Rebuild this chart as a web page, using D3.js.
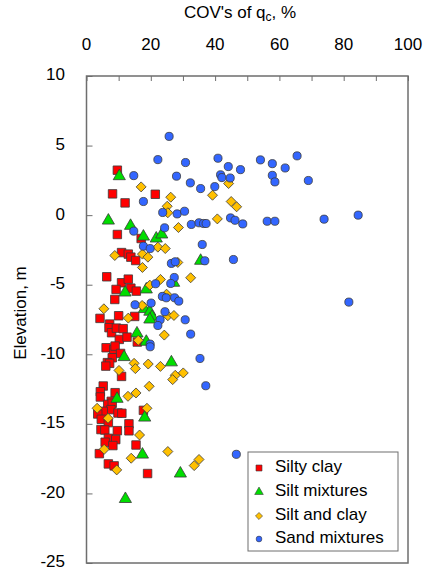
<!DOCTYPE html>
<html>
<head>
<meta charset="utf-8">
<script src="https://cdn.jsdelivr.net/npm/d3@7"></script>
<style>
  html, body { margin: 0; padding: 0; background: #fff; }
  svg { display: block; font-family: "Liberation Sans", Arial, sans-serif; }
</style>
</head>
<body>
<svg id="chart" width="425" height="579"></svg>
<script>
// ---- Data (COV of qc in %, elevation in m) ----
const seriesNames = ["Silty clay", "Silt mixtures", "Silt and clay", "Sand mixtures"];
const xTicks = [0, 20, 40, 60, 80, 100];
const yTicks = [10, 5, 0, -5, -10, -15, -20, -25];

const siltyClay = [
  [9.6,3.23],[8.1,1.53],[12.0,0.88],[21.4,1.5],[9.6,-1.39],[17.0,-1.68],[10.9,-2.69],[13.0,-2.8],
  [13.8,-3.02],[15.3,-3.26],[6.3,-4.43],[10.9,-4.86],[13.0,-4.6],[9.2,-5.34],[13.8,-5.25],[15.5,-5.46],
  [8.8,-6.06],[4.2,-7.42],[10.0,-7.23],[15.0,-7.28],[7.2,-7.83],[7.0,-8.09],[7.8,-8.45],[9.3,-8.12],
  [11.4,-8.16],[10.2,-8.93],[12.6,-8.77],[15.8,-9.12],[6.1,-9.53],[8.5,-9.67],[8.9,-9.41],[10.6,-9.94],
  [8.0,-10.25],[6.5,-10.6],[7.2,-10.65],[6.0,-10.85],[10.9,-11.59],[5.2,-12.28],[4.3,-12.69],[4.3,-13.07],
  [8.9,-12.76],[7.7,-13.38],[6.6,-13.6],[8.0,-13.52],[7.6,-13.98],[5.2,-14.1],[3.5,-14.29],[9.8,-14.22],
  [11.0,-14.24],[17.7,-14.03],[4.6,-14.67],[6.8,-14.91],[13.2,-15.0],[13.2,-15.5],[4.5,-15.41],[5.7,-15.44],
  [9.6,-15.49],[6.8,-16.04],[9.1,-16.13],[5.8,-16.32],[8.2,-16.56],[15.4,-16.52],[4.0,-17.14],[6.8,-17.88],
  [8.6,-18.02],[19.0,-18.57]
];
const siltMixtures = [
  [10.2,2.8],[6.8,-0.39],[13.7,-0.77],[17.7,-1.54],[21.7,-1.68],[23.4,-1.39],[35.5,-3.28],[12.0,-5.56],
  [18.6,-5.34],[27.1,-4.86],[18.0,-6.75],[19.7,-6.94],[20.4,-7.3],[19.7,-7.5],[15.7,-8.5],[18.6,-9.1],
  [11.7,-10.2],[26.4,-10.58],[9.5,-13.2],[18.1,-14.55],[17.4,-17.21],[29.2,-18.57],[12.1,-20.4]
];
const siltAndClay = [
  [17.0,2.03],[26.2,1.29],[39.2,1.43],[45.0,0.98],[46.7,0.6],[25.1,0.64],[25.3,0.17],[44.2,2.27],
  [40.7,-0.27],[28.6,-0.89],[22.2,-2.3],[24.5,-2.4],[8.8,-2.9],[17.4,-2.8],[19.1,-3.02],[17.4,-3.76],
  [28.4,-3.4],[19.7,-5.03],[23.0,-4.62],[32.4,-4.5],[5.4,-6.73],[17.3,-6.49],[24.9,-5.68],[25.3,-7.23],
  [27.2,-7.21],[24.2,-8.62],[13.0,-7.4],[16.1,-9.0],[14.8,-10.65],[19.2,-10.7],[23.0,-10.87],[15.2,-11.03],
  [10.1,-11.16],[27.6,-11.51],[26.8,-11.82],[30.1,-11.34],[19.5,-12.3],[15.4,-12.78],[12.9,-13.02],[3.3,-13.88],
  [18.8,-13.88],[6.7,-14.6],[16.5,-15.8],[5.5,-16.83],[25.3,-16.99],[13.9,-17.47],[35.0,-17.56],[33.5,-18.0],
  [9.4,-18.31]
];
const sandMixtures = [
  [25.7,5.66],[22.2,3.99],[30.8,3.78],[40.9,4.09],[44.1,3.49],[47.9,3.27],[14.7,2.84],[28.0,2.8],
  [41.7,2.9],[42.1,2.7],[44.7,2.67],[32.3,2.32],[35.5,1.91],[39.9,2.05],[17.7,0.98],[23.7,0.19],
  [28.2,0.09],[30.5,0.28],[44.8,-0.2],[46.2,-0.37],[48.6,-0.63],[32.6,-0.67],[35.0,-0.55],[36.4,-0.6],
  [37.2,-0.6],[14.7,-1.15],[24.3,-0.91],[17.7,-2.23],[19.8,-2.4],[36.0,-2.11],[26.4,-3.47],[27.6,-3.35],
  [36.8,-3.28],[45.7,-3.19],[21.5,-4.93],[27.3,-4.48],[26.2,-4.91],[15.1,-6.44],[20.1,-6.32],[23.6,-5.84],
  [24.8,-5.94],[27.4,-5.94],[28.7,-6.18],[24.4,-6.94],[22.9,-7.52],[22.2,-7.93],[30.7,-7.52],[32.4,-8.55],
  [19.8,-9.27],[19.8,-9.46],[35.3,-10.3],[37.1,-12.26],[46.6,-17.19],[54.1,3.97],[65.5,4.26],[57.8,3.7],
  [61.8,3.39],[57.8,2.86],[58.6,2.39],[69.0,2.49],[56.2,-0.44],[58.6,-0.44],[73.9,-0.29],[84.5,0.0],
  [81.6,-6.25]
];

// ---- Layout ----
const svg = d3.select("#chart");
const L = 86.5, R = 408, T = 76, B = 563;
const x = d3.scaleLinear().domain([0, 100]).range([L, R]);
const y = d3.scaleLinear().domain([-25, 10]).range([B, T]);
const fontSize = 17;
const frameColor = "#6e6e6e";

// top axis (ticks inside, every 10; labels every 20)
const xAxis = d3.axisTop(x).tickValues(d3.range(0, 101, 10)).tickSize(-5).tickFormat("");
svg.append("g").attr("transform", `translate(0,${T})`).call(xAxis)
  .call(g => g.select(".domain").remove())
  .call(g => g.selectAll("line").attr("stroke", frameColor).attr("stroke-width", 1));
svg.append("g").selectAll("text").data(xTicks).join("text")
  .attr("x", d => x(d)).attr("y", 46).attr("text-anchor", "middle")
  .attr("dominant-baseline", "middle").attr("font-size", fontSize).attr("fill", "#000")
  .text(d => d);

// left axis (ticks inside)
const yAxis = d3.axisLeft(y).tickValues(yTicks).tickSize(-6).tickFormat("");
svg.append("g").attr("transform", `translate(${L},0)`).call(yAxis)
  .call(g => g.select(".domain").remove())
  .call(g => g.selectAll("line").attr("stroke", frameColor).attr("stroke-width", 1));
svg.append("g").selectAll("text").data(yTicks).join("text")
  .attr("x", 65).attr("y", d => y(d)).attr("text-anchor", "end")
  .attr("dominant-baseline", "middle").attr("font-size", fontSize).attr("fill", "#000")
  .text(d => d);

// frame
svg.append("rect").attr("x", L).attr("y", T).attr("width", R - L).attr("height", B - T)
  .attr("fill", "none").attr("stroke", frameColor).attr("stroke-width", 1.5);

// titles
const title = svg.append("text").attr("x", 240).attr("y", 14).attr("text-anchor", "middle")
  .attr("dominant-baseline", "middle").attr("font-size", fontSize).attr("fill", "#000");
title.append("tspan").text("COV's of q");
title.append("tspan").attr("font-size", 12).attr("dy", 4).text("c");
title.append("tspan").attr("dy", -4).text(", %");

svg.append("text").attr("transform", "translate(22,313) rotate(-90)")
  .attr("text-anchor", "middle").attr("dominant-baseline", "middle")
  .attr("font-size", fontSize).attr("fill", "#000").text("Elevation, m");

// markers
const stroke = "#3a3a3a";
const diamondSym = { draw(ctx, size) { const r = Math.sqrt(size / 2); ctx.moveTo(0, -r); ctx.lineTo(r, 0); ctx.lineTo(0, r); ctx.lineTo(-r, 0); ctx.closePath(); } };
const symbols = [
  { data: siltyClay, type: d3.symbolSquare, size: 72, fill: "#ff0000" },
  { data: siltMixtures, type: d3.symbolTriangle, size: 64, fill: "#00dd00" },
  { data: siltAndClay, type: diamondSym, size: 50, fill: "#ffc000" },
  { data: sandMixtures, type: d3.symbolCircle, size: 52, fill: "#3366ff" }
];
symbols.forEach(s => {
  svg.append("g").selectAll("path").data(s.data).join("path")
    .attr("transform", d => `translate(${x(d[0])},${y(d[1])})`)
    .attr("d", d3.symbol().type(s.type).size(s.size)())
    .attr("fill", s.fill).attr("stroke", stroke).attr("stroke-width", 0.8);
});

// legend
const lg = svg.append("g");
lg.append("rect").attr("x", 248).attr("y", 452).attr("width", 150).attr("height", 99)
  .attr("fill", "#fff").attr("stroke", frameColor).attr("stroke-width", 1);
const rowY = [468, 492, 516, 539];
symbols.forEach((s, i) => {
  lg.append("path").attr("transform", `translate(259,${rowY[i]})`)
    .attr("d", d3.symbol().type(s.type).size(s.size * 0.5)())
    .attr("fill", s.fill).attr("stroke", stroke).attr("stroke-width", 0.6);
  lg.append("text").attr("x", 275).attr("y", rowY[i]).attr("dominant-baseline", "middle")
    .attr("font-size", fontSize).attr("fill", "#000").text(seriesNames[i]);
});
</script>
</body>
</html>
